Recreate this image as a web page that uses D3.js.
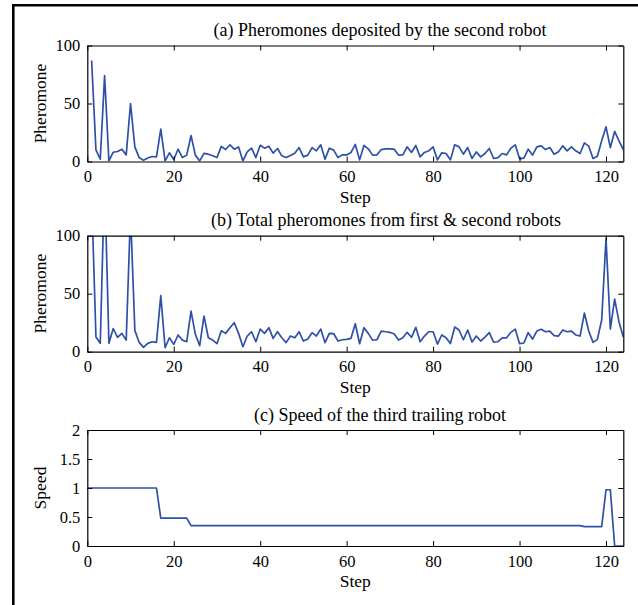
<!DOCTYPE html>
<html>
<head>
<meta charset="utf-8">
<script src="https://cdn.jsdelivr.net/npm/d3@7"></script>
<style>
  body { margin: 0; background: #fff; }
  svg text { font-family: "Liberation Serif", "Times New Roman", serif; fill: #000; }
</style>
</head>
<body>
<div id="chart"></div>
<script>
// step index for the pheromone series
var steps = d3.range(1, 125);

// (a) pheromones deposited by the second robot
var pheromoneSecond = [87, 10, 2, 74, 0.5, 8, 8.6, 10.6, 5.7, 50,
    12.6, 3.4, 1, 3, 4.3, 4, 28, 0.5, 7.5, 1.7,
    10.6, 3.4, 5.5, 22.4, 5.5, 0.5, 7, 6.3, 5, 3.4,
    13, 10.3, 14.4, 10.6, 12.6, 0.5, 8.3, 11.5, 3.4, 14,
    11.5, 13.2, 7.2, 11.2, 4.9, 3.4, 5.2, 7.2, 12, 4,
    5.5, 12, 9.2, 14.4, 2, 11.5, 9.8, 3.4, 5.7, 5.7,
    7.8, 14.7, 1.4, 13.8, 10.9, 5.5, 5.7, 10.3, 10.9, 10.9,
    10.6, 5.5, 5.7, 12.6, 7.8, 13.8, 4, 7.8, 9.2, 12.6,
    1.4, 7.5, 6.9, 1.4, 14.4, 12.6, 6.3, 12, 2.6, 8.3,
    4, 6.9, 11.2, 2.6, 3.4, 6.9, 5.7, 11.5, 14.4, 2.3,
    2.9, 10.6, 5.5, 12.6, 13.5, 10.3, 12, 6.3, 8.3, 13.5,
    9.2, 12.6, 9.2, 6.9, 16, 13.2, 2.6, 4.6, 17.8, 29.9,
    12, 25.9, 17.8, 10.3];

// (b) total pheromones from first & second robots (peaks above 100 are clipped)
var pheromoneTotal = [135, 12.6, 7.2, 150, 7.2, 20, 12.4, 15.8, 10, 120,
    18.4, 8, 3.7, 7.2, 8.6, 8, 48.3, 3.4, 12, 6.3,
    14.4, 10, 8.6, 35, 15, 5.2, 30.7, 12, 10, 6.9,
    18, 15.8, 20.7, 25, 15.8, 4.3, 13.5, 17.2, 8.6, 19.5,
    15.8, 20.7, 11.5, 17.2, 12, 7.8, 13.5, 12, 17.2, 9.2,
    10.9, 16.4, 13.5, 19.5, 7.8, 15.8, 15.5, 9.2, 10.3, 10.6,
    11.5, 24.1, 6.9, 20.7, 15.8, 10, 10.3, 17.8, 17.2, 16.7,
    15.2, 10, 12, 16.7, 12.4, 21, 8.6, 13.5, 17.2, 17.2,
    6.6, 14.4, 12, 7, 21.3, 18.7, 10.3, 18.7, 8.3, 13.5,
    9.2, 12.6, 16.4, 8.3, 8.6, 12, 12, 16.7, 19.5, 6.9,
    7.5, 16.4, 10.9, 17.8, 19.3, 17.2, 17.8, 13.8, 13.5, 18.7,
    17.2, 17.8, 14.4, 13.5, 33.3, 17.8, 8, 10.6, 27.3, 98,
    19.5, 45.4, 25.9, 12.6];

// (c) speed of the third trailing robot, read at the corners of the trace
var speedSteps  = [0, 16, 17, 23, 24, 114, 115, 119, 120, 121, 122, 124];
var speedValues = [1, 1, 0.48, 0.48, 0.35, 0.35, 0.335, 0.335, 0.97, 0.97, 0, 0];

var stepTicks = [0, 20, 40, 60, 80, 100, 120];
var pheromoneTicks = [0, 50, 100];
var speedTicks = [0, 0.5, 1, 1.5, 2];

var svgWidth = 638;
var svgHeight = 605;
var plotLeft = 87.3;
var plotRight = 623.3;
var plotHeight = 116;
var lineColor = "#2f50a8";
var fontFamily = "'Liberation Serif', 'Times New Roman', serif";

var svg = d3.select("#chart").append("svg")
    .attr("width", svgWidth)
    .attr("height", svgHeight)
    .attr("font-family", fontFamily);

// outer frame (left and top edges show)
svg.append("line")
    .attr("x1", 13.3).attr("x2", 13.3)
    .attr("y1", 4).attr("y2", svgHeight)
    .attr("stroke", "#000").attr("stroke-width", 2.6);
svg.append("line")
    .attr("x1", 12).attr("x2", svgWidth)
    .attr("y1", 5.3).attr("y2", 5.3)
    .attr("stroke", "#000").attr("stroke-width", 2.6);

var xScale = d3.scaleLinear()
    .domain([0, 124])
    .range([plotLeft, plotRight]);

function drawPanel(opts) {
    var top = opts.top;
    var bottom = top + plotHeight;
    var yScale = d3.scaleLinear()
        .domain(opts.yDomain)
        .range([bottom, top]);

    var g = svg.append("g");

    var clipId = "clip-" + opts.id;
    svg.append("clipPath").attr("id", clipId)
        .append("rect")
        .attr("x", plotLeft).attr("y", top)
        .attr("width", plotRight - plotLeft).attr("height", plotHeight);

    var line = d3.line()
        .x(function (d) { return xScale(d[0]); })
        .y(function (d) { return yScale(d[1]); });

    g.append("path")
        .datum(d3.zip(opts.xs, opts.ys))
        .attr("clip-path", "url(#" + clipId + ")")
        .attr("fill", "none")
        .attr("stroke", lineColor)
        .attr("stroke-width", 1.7)
        .attr("stroke-linejoin", "round")
        .attr("d", line);

    // axes: inward ticks on all four sides
    g.append("g")
        .attr("transform", "translate(0," + bottom + ")")
        .call(d3.axisBottom(xScale).tickValues(stepTicks).tickSizeInner(-5).tickSizeOuter(0).tickPadding(9))
        .call(styleAxis);
    g.append("g")
        .attr("transform", "translate(0," + top + ")")
        .call(d3.axisTop(xScale).tickValues(stepTicks).tickSizeInner(-5).tickSizeOuter(0).tickFormat(""))
        .call(styleAxis);
    g.append("g")
        .attr("transform", "translate(" + plotLeft + ",0)")
        .call(d3.axisLeft(yScale).tickValues(opts.yTicks).tickSizeInner(-5).tickSizeOuter(0)
            .tickPadding(7).tickFormat(d3.format("~g")))
        .call(styleAxis);
    g.append("g")
        .attr("transform", "translate(" + plotRight + ",0)")
        .call(d3.axisRight(yScale).tickValues(opts.yTicks).tickSizeInner(-5).tickSizeOuter(0).tickFormat(""))
        .call(styleAxis);

    g.selectAll(".tick text")
        .attr("font-size", "16.5px")
        .attr("fill", "#000");

    // title
    g.append("text")
        .attr("x", opts.titleX)
        .attr("y", top - 9.5)
        .attr("text-anchor", "middle")
        .attr("font-size", "18px")
        .text(opts.title);

    // x label
    g.append("text")
        .attr("x", (plotLeft + plotRight) / 2)
        .attr("y", bottom + 41)
        .attr("text-anchor", "middle")
        .attr("font-size", "17.5px")
        .text("Step");

    // y label
    g.append("text")
        .attr("transform", "translate(46," + (top + bottom) / 2 + ") rotate(-90)")
        .attr("text-anchor", "middle")
        .attr("font-size", "17.5px")
        .text(opts.yLabel);
}

function styleAxis(sel) {
    sel.select(".domain").attr("stroke", "#000").attr("stroke-width", 1.2);
    sel.selectAll(".tick line").attr("stroke", "#000").attr("stroke-width", 1);
    sel.attr("font-family", fontFamily);
}

drawPanel({
    id: "a", top: 45.5, yDomain: [0, 100], yTicks: pheromoneTicks,
    xs: steps, ys: pheromoneSecond, titleX: 380,
    title: "(a) Pheromones deposited by the second robot", yLabel: "Pheromone"
});
drawPanel({
    id: "b", top: 235.7, yDomain: [0, 100], yTicks: pheromoneTicks,
    xs: steps, ys: pheromoneTotal, titleX: 386,
    title: "(b) Total pheromones from first & second robots", yLabel: "Pheromone"
});
drawPanel({
    id: "c", top: 430, yDomain: [0, 2], yTicks: speedTicks,
    xs: speedSteps, ys: speedValues, titleX: 380,
    title: "(c) Speed of the third trailing robot", yLabel: "Speed"
});
</script>
</body>
</html>
